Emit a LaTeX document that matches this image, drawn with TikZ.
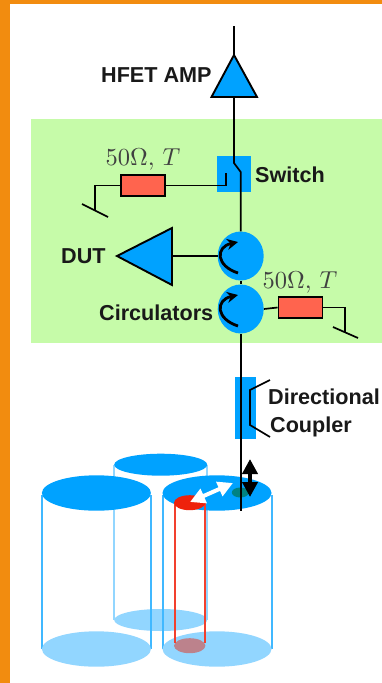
\documentclass[tikz,border=0pt]{standalone}
\usepackage{graphicx}
\usepackage{fontspec}
\setmainfont{Liberation Sans}
\usetikzlibrary{arrows.meta,shapes.geometric}
\definecolor{orangeb}{HTML}{F28C0F}
\definecolor{greenb}{HTML}{C6FBA9}
\definecolor{blueb}{HTML}{00A2FF}
\definecolor{blueL}{HTML}{92D6FF}
\definecolor{blueM}{HTML}{40B8FF}
\definecolor{redr}{HTML}{FF644E}
\definecolor{redc}{HTML}{F2402E}
\definecolor{redt}{HTML}{EE220C}
\definecolor{mauve}{RGB}{188,130,140}
\definecolor{tealc}{RGB}{0,130,130}
\tikzset{
  x=1pt,y=-1pt,
  wire/.style={line width=1.7pt,black},
  lbl/.style={inner sep=0pt,font=\fontsize{21.6}{24}\selectfont\bfseries,text=black!90},
  mlbl/.style={inner sep=0pt,text=black!75},
  tri/.style={draw=black,line width=1.9pt,fill=blueb,line join=miter},
  res/.style={draw=black,line width=1.9pt,fill=redr,minimum width=44pt,minimum height=21pt,inner sep=0pt},
  circu/.style={ellipse,fill=blueb,minimum width=46pt,minimum height=49pt,inner sep=0pt},
  circarrow/.style={line width=2.8pt,black,-{Stealth[length=11pt,width=11pt]}},
  cyl/.style={line width=1.4pt},
}
\begin{document}
\begin{tikzpicture}
\useasboundingbox (0,0) rectangle (382,683);
\fill[white] (0,0) rectangle (382,683);
\fill[orangeb] (0,0) rectangle (382,4);
\fill[orangeb] (0,0) rectangle (10,683);
\fill[greenb] (31,119) rectangle (382,343);

% cylinders: back
\draw[cyl,blueL] (114,465) -- (114,620) (207,465) -- (207,620);
\fill[blueL] (160.7,620) ellipse [x radius=46.5,y radius=11];
\fill[blueb] (160.7,464.7) ellipse [x radius=46.5,y radius=11];
% left
\draw[cyl,blueM] (42,495) -- (42,649) (151,495) -- (151,649);
\fill[blueL] (96.4,649) ellipse [x radius=54.5,y radius=17.7];
\fill[blueb] (96.4,493) ellipse [x radius=54.5,y radius=17.7];
% right
\draw[cyl,blueM] (163,495) -- (163,649) (272,495) -- (272,649);
\fill[blueL] (217,649) ellipse [x radius=54.5,y radius=17.7];
\fill[blueb] (217,493) ellipse [x radius=54.5,y radius=17.7];
% red cylinder
\fill[mauve] (189.7,645.7) ellipse [x radius=15.7,y radius=7.5];
\draw[cyl,redc] (175,503) -- (175,643) (205,503) -- (205,643);
\fill[redt] (189.7,502.7) ellipse [x radius=15.7,y radius=7.5];
\fill[tealc] (240.3,492.5) ellipse [x radius=8.5,y radius=5];

% coupler
\node[fill=blueb,inner sep=0pt,minimum width=21pt,minimum height=62pt] (coupler) at (245.5,408) {};
% switch box
\node[fill=blueb,inner sep=0pt,minimum width=34pt,minimum height=36pt] (switch) at (234,174) {};
% nodes
\coordinate (top) at (234,26);
\coordinate (ampA) at (234,55);
\coordinate (ampB) at (234,97);
\coordinate (swIn) at (234,163);
\coordinate (swOut) at (240.7,172);
\coordinate (swL) at (226,173);
\coordinate (swLb) at (226,185.5);
\coordinate (mainend) at (240.7,511);
\node[circu] (c1) at (240.7,256) {};
\node[circu] (c2) at (240.7,309) {};
\node[res] (r1) at (143,185.5) {};
\node[res] (r2) at (300.5,307.5) {};

\draw[wire] (top) -- (ampA);
\draw[tri] (234,55) -- (211.5,97) -- (257,97) -- cycle;
\draw[wire] (ampB) -- (swIn) -- (swOut) -- (c1.north);
\draw[wire] (swL) -- (swLb) -- (r1.east);
\draw[wire] (c1.south) -- (c2.north);
\draw[wire] (c2.south) -- (mainend);
% ground 1
\coordinate (g1) at (95,211);
\coordinate (g1a) at (82,204);
\coordinate (g1b) at (108,217);
\draw[wire] (r1.west) -| (g1);
\draw[wire] (g1a) -- (g1b);
% ground 2
\coordinate (g2) at (345,332);
\coordinate (g2a) at (333,327);
\coordinate (g2b) at (358,338);
\draw[wire] (r2.east) -| (g2);
\draw[wire] (g2a) -- (g2b);
\draw[wire] (c2.east) -- (r2.west);
% DUT
\draw[tri] (117,256) -- (172,228) -- (172,285) -- cycle;
\coordinate (dutb) at (172,256);
\draw[wire] (dutb) -- (c1.west);
% circulator arrows
\draw[circarrow] (238,273) .. controls (216,266) and (215,247) .. (238,242);
\draw[circarrow] (238,326) .. controls (216,319) and (215,300) .. (238,295);
% coupler brackets
\draw[wire] (270,380) -- (250,390) -- (250,425) -- (270,437);
% labels
\node[lbl,anchor=base west] (lamp) at (101,82) {HFET AMP};
\node[lbl,anchor=base west] (lsw) at (255,182) {Switch};
\node[lbl,anchor=base west] (ldut) at (61,263) {DUT};
\node[lbl,anchor=base west] (lcir) at (99,320) {Circulators};
\node[lbl,anchor=base west] (ldir) at (268,404) {Directional};
\node[lbl,anchor=base west] (lcou) at (270,432) {Coupler};
\node[mlbl,anchor=base] (m1) at (143,165) {\scalebox{2.45}{$50\Omega,\,T$}};
\node[mlbl,anchor=base] (m2) at (300,288) {\scalebox{2.45}{$50\Omega,\,T$}};
% arrows in cavity
\coordinate (ba) at (250,459);
\coordinate (bb) at (250,497);
\draw[line width=4pt,black,{Triangle[length=15pt,width=15pt]}-{Triangle[length=15pt,width=15pt]}] (ba) -- (bb);
\coordinate (wa) at (190,502);
\coordinate (wb) at (233,483);
\draw[line width=4pt,white,{Triangle[length=15pt,width=15pt]}-{Triangle[length=15pt,width=15pt]}] (wa) -- (wb);
\end{tikzpicture}
\end{document}
